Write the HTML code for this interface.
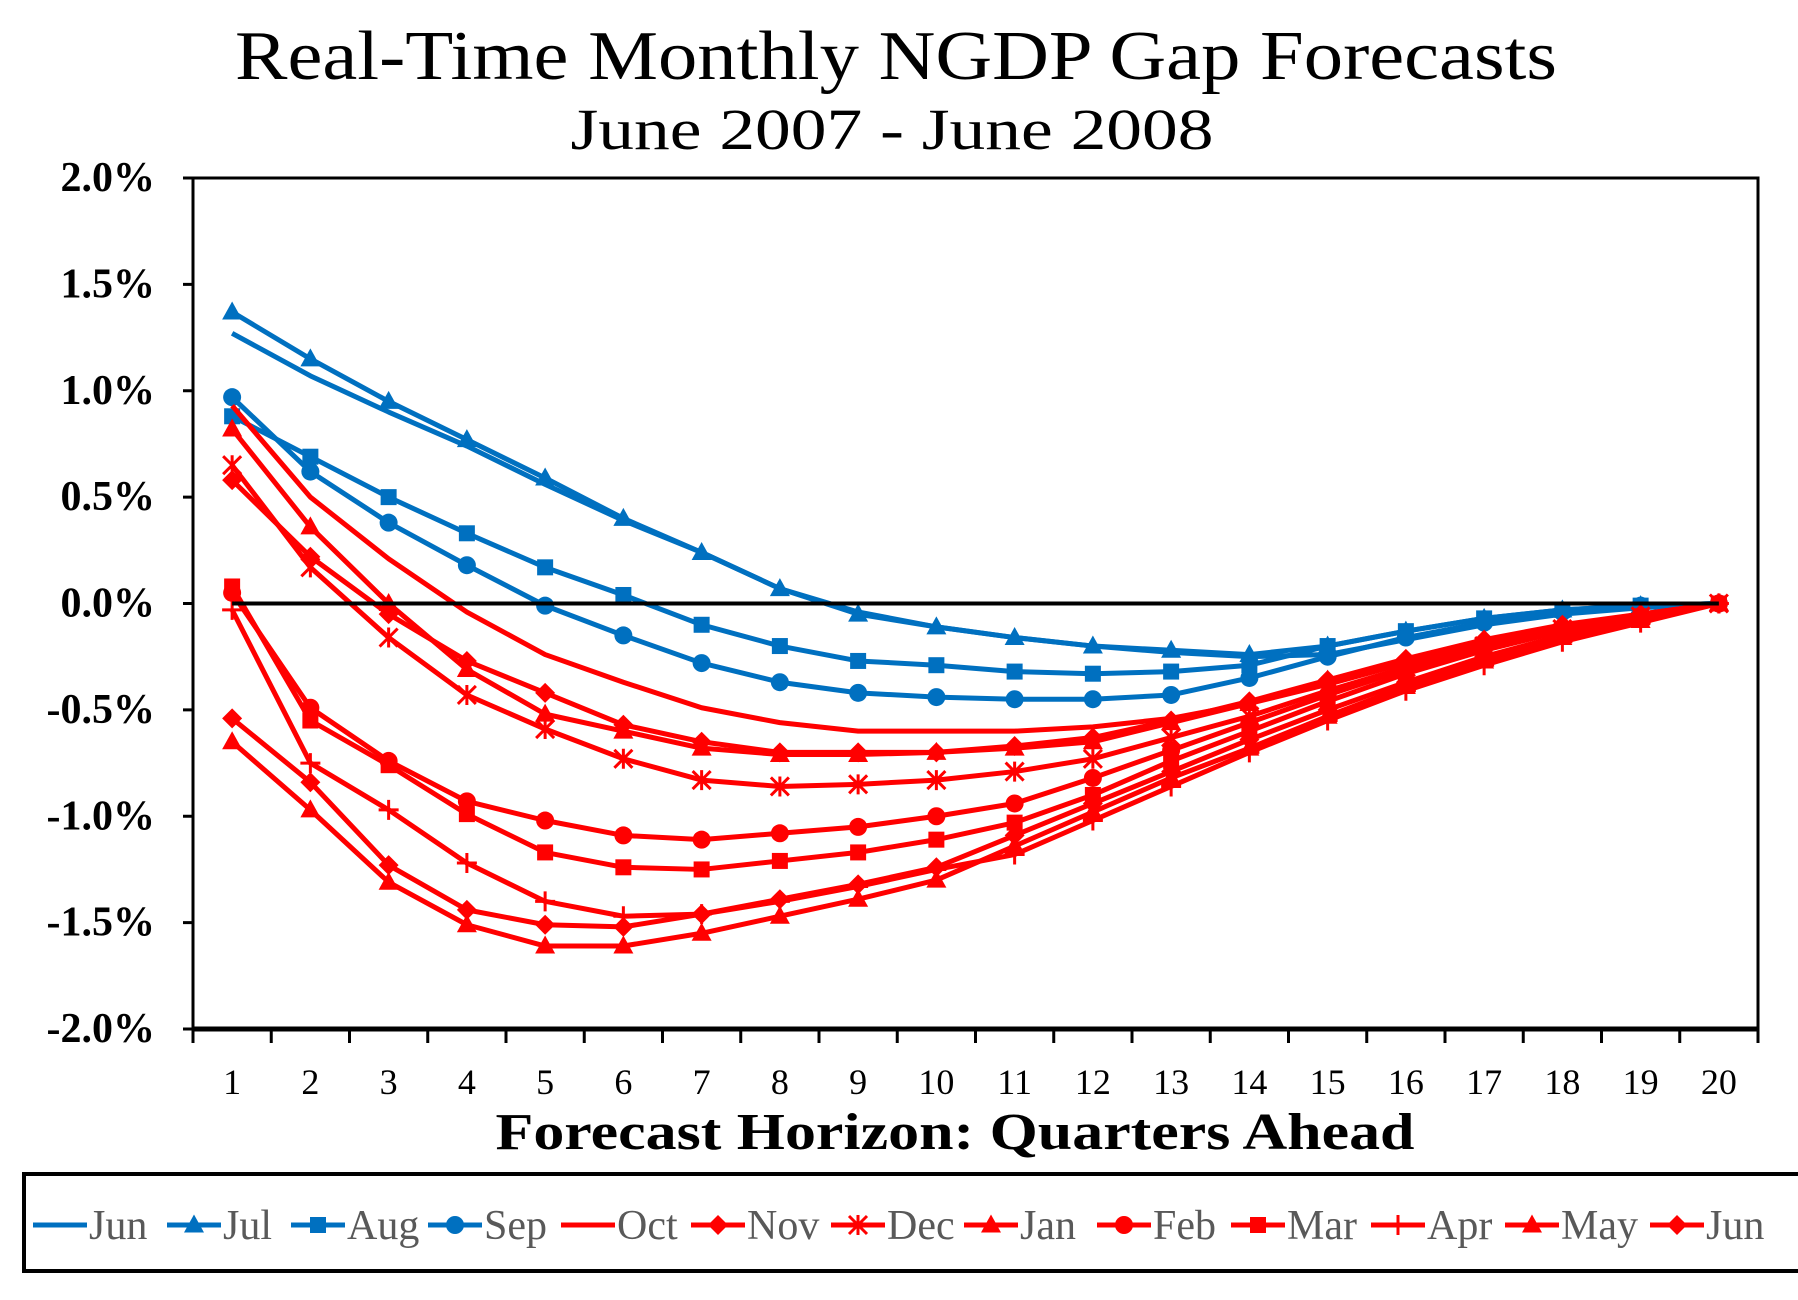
<!DOCTYPE html>
<html><head><meta charset="utf-8"><style>
html,body{margin:0;padding:0;background:#fff;}
svg{display:block;font-family:"Liberation Serif",serif;}
</style></head><body>
<svg id="chart" width="1798" height="1300" viewBox="0 0 1798 1300" xmlns="http://www.w3.org/2000/svg">
<text x="896" y="79" font-size="70" text-anchor="middle" textLength="1322" lengthAdjust="spacingAndGlyphs">Real-Time Monthly NGDP Gap Forecasts</text>
<text x="892" y="149" font-size="58" text-anchor="middle" textLength="643" lengthAdjust="spacingAndGlyphs">June 2007 - June 2008</text>
<g id="plot"></g>
<text x="955" y="1149" font-size="52" font-weight="bold" text-anchor="middle" textLength="919" lengthAdjust="spacingAndGlyphs">Forecast Horizon: Quarters Ahead</text>
<rect x="24" y="1174" width="1790" height="97" fill="none" stroke="#000" stroke-width="4"/>
<g id="legend"></g>
</svg>
<script>
const categories=[1,2,3,4,5,6,7,8,9,10,11,12,13,14,15,16,17,18,19,20];
const yTicks=[2.0,1.5,1.0,0.5,0.0,-0.5,-1.0,-1.5,-2.0];
const seriesNames=["Jun","Jul","Aug","Sep","Oct","Nov","Dec","Jan","Feb","Mar","Apr","May","Jun"];
const jun07=[1.27,1.07,0.90,0.74,0.56,0.39,0.24,0.07,-0.04,-0.11,-0.16,-0.20,-0.23,-0.25,-0.24,-0.17,-0.10,-0.05,-0.02,0];
const jul07=[1.37,1.15,0.95,0.77,0.59,0.40,0.24,0.07,-0.05,-0.11,-0.16,-0.20,-0.22,-0.24,-0.20,-0.13,-0.07,-0.03,-0.01,0];
const aug07=[0.88,0.69,0.50,0.33,0.17,0.04,-0.10,-0.20,-0.27,-0.29,-0.32,-0.33,-0.32,-0.29,-0.20,-0.13,-0.07,-0.03,-0.01,0];
const sep07=[0.97,0.62,0.38,0.18,-0.01,-0.15,-0.28,-0.37,-0.42,-0.44,-0.45,-0.45,-0.43,-0.35,-0.25,-0.16,-0.09,-0.04,-0.01,0];
const oct07=[0.93,0.50,0.21,-0.04,-0.24,-0.37,-0.49,-0.56,-0.60,-0.60,-0.60,-0.58,-0.54,-0.47,-0.38,-0.28,-0.19,-0.11,-0.05,0];
const nov07=[0.58,0.22,-0.05,-0.27,-0.42,-0.57,-0.65,-0.70,-0.70,-0.70,-0.67,-0.63,-0.55,-0.46,-0.36,-0.26,-0.17,-0.10,-0.05,0];
const dec07=[0.65,0.17,-0.16,-0.43,-0.59,-0.73,-0.83,-0.86,-0.85,-0.83,-0.79,-0.73,-0.63,-0.53,-0.41,-0.30,-0.20,-0.12,-0.06,0];
const jan08=[0.82,0.36,0.0,-0.31,-0.52,-0.60,-0.68,-0.71,-0.71,-0.70,-0.68,-0.65,-0.56,-0.47,-0.36,-0.27,-0.18,-0.11,-0.05,0];
const feb08=[0.05,-0.49,-0.74,-0.93,-1.02,-1.09,-1.11,-1.08,-1.05,-1.00,-0.94,-0.82,-0.69,-0.56,-0.43,-0.31,-0.21,-0.12,-0.06,0];
const mar08=[0.08,-0.55,-0.76,-0.99,-1.17,-1.24,-1.25,-1.21,-1.17,-1.11,-1.03,-0.90,-0.74,-0.60,-0.46,-0.33,-0.22,-0.13,-0.06,0];
const apr08=[-0.03,-0.75,-0.97,-1.22,-1.40,-1.47,-1.46,-1.40,-1.33,-1.25,-1.18,-1.02,-0.86,-0.70,-0.55,-0.41,-0.29,-0.18,-0.09,0];
const may08=[-0.65,-0.97,-1.31,-1.51,-1.61,-1.61,-1.55,-1.47,-1.39,-1.30,-1.14,-0.98,-0.82,-0.68,-0.53,-0.39,-0.27,-0.16,-0.08,0];
const jun08=[-0.54,-0.84,-1.23,-1.44,-1.51,-1.52,-1.46,-1.39,-1.32,-1.24,-1.09,-0.94,-0.79,-0.64,-0.50,-0.37,-0.25,-0.15,-0.07,0];

const BLUE="#0070C0",RED="#FF0000";
const series=[
 {name:"Jun",data:jun07,color:BLUE,marker:"none",id:"jun-2007"},
 {name:"Jul",data:jul07,color:BLUE,marker:"triangle",id:"jul-2007"},
 {name:"Aug",data:aug07,color:BLUE,marker:"square",id:"aug-2007"},
 {name:"Sep",data:sep07,color:BLUE,marker:"circle",id:"sep-2007"},
 {name:"Oct",data:oct07,color:RED,marker:"none",id:"oct-2007"},
 {name:"Nov",data:nov07,color:RED,marker:"diamond",id:"nov-2007"},
 {name:"Dec",data:dec07,color:RED,marker:"star",id:"dec-2007"},
 {name:"Jan",data:jan08,color:RED,marker:"triangle",id:"jan-2008"},
 {name:"Feb",data:feb08,color:RED,marker:"circle",id:"feb-2008"},
 {name:"Mar",data:mar08,color:RED,marker:"square",id:"mar-2008"},
 {name:"Apr",data:apr08,color:RED,marker:"plus",id:"apr-2008"},
 {name:"May",data:may08,color:RED,marker:"triangle",id:"may-2008"},
 {name:"Jun",data:jun08,color:RED,marker:"diamond",id:"jun-2008"}
];
const NS="http://www.w3.org/2000/svg";
const L=193,R=1758,T=178,B=1029;
const bw=(R-L)/categories.length;
function xScale(i){return L+bw*(i+0.5);}
function yScale(v){return T+(2-v)/4*(B-T);}
function mk(tag,attrs,parent){const e=document.createElementNS(NS,tag);for(const k in attrs)e.setAttribute(k,attrs[k]);parent.appendChild(e);return e;}
function marker(type,x,y,color,parent,s){
 let e=null;
 if(type==="triangle")e=mk("polygon",{points:`${x},${y-s*1.05} ${x-s},${y+s*0.75} ${x+s},${y+s*0.75}`,fill:color},parent);
 else if(type==="square")e=mk("rect",{x:x-s*0.8,y:y-s*0.8,width:s*1.6,height:s*1.6,fill:color},parent);
 else if(type==="circle")e=mk("circle",{cx:x,cy:y,r:s*0.9,fill:color},parent);
 else if(type==="diamond")e=mk("polygon",{points:`${x},${y-s} ${x+s},${y} ${x},${y+s} ${x-s},${y}`,fill:color},parent);
 else if(type==="plus")e=mk("path",{d:`M${x-s} ${y}H${x+s}M${x} ${y-s}V${y+s}`,stroke:color,"stroke-width":3,fill:"none"},parent);
 else if(type==="star")e=mk("path",{d:`M${x-s*0.9} ${y-s*0.9}L${x+s*0.9} ${y+s*0.9}M${x-s*0.9} ${y+s*0.9}L${x+s*0.9} ${y-s*0.9}M${x} ${y-s}V${y+s}`,stroke:color,"stroke-width":3,fill:"none"},parent);
 return e;
}
const plot=document.getElementById("plot");
const frame=mk("rect",{x:L,y:T,width:R-L,height:B-T,fill:"none",stroke:"#000","stroke-width":3},plot);


const xaxis=mk("line",{x1:L,y1:B,x2:R,y2:B,stroke:"#000","stroke-width":5},plot);


yTicks.forEach(v=>{
 const y=yScale(v);
 const t=mk("line",{x1:L-10,y1:y,x2:L,y2:y,stroke:"#000","stroke-width":3},plot);
 
 
 const lb=mk("text",{x:155,y:y+13,"font-size":42,"font-weight":"bold","text-anchor":"end"},plot);
 lb.textContent=v.toFixed(1)+"%";
 
 
});
for(let i=0;i<=categories.length;i++){
 const x=L+bw*i;
 const t=mk("line",{x1:x,y1:B,x2:x,y2:B+14,stroke:"#000","stroke-width":3},plot);
 
 
}
categories.forEach((c,i)=>{
 const lb=mk("text",{x:xScale(i),y:1094,"font-size":36,"text-anchor":"middle"},plot);
 lb.textContent=c;
 
 
});
series.forEach(s=>{
 const g=mk("g",{},plot);
 
 
 const pts=s.data.map((v,i)=>xScale(i)+","+yScale(v)).join(" ");
 const pl=mk("polyline",{points:pts,fill:"none",stroke:s.color,"stroke-width":5,"stroke-linejoin":"round"},g);
 
 
 if(s.marker!=="none"){
  s.data.forEach((v,i)=>{
   const m=marker(s.marker,xScale(i),yScale(v),s.color,g,10);
   
   
  });
 }
});
const zl=mk("line",{x1:xScale(0),y1:yScale(0),x2:xScale(categories.length-1),y2:yScale(0),stroke:"#000","stroke-width":4},plot);


const legTextX=[89,223,347,484,617,747,887,1020,1153,1287,1427,1561,1706];
const leg=document.getElementById("legend");
series.forEach((s,i)=>{
 const g=mk("g",{},leg);
 
 
 const tx=legTextX[i];
 const ly=1225;
 mk("line",{x1:tx-56,y1:ly,x2:tx-2,y2:ly,stroke:s.color,"stroke-width":5},g);
 if(s.marker!=="none")marker(s.marker,tx-29,ly,s.color,g,10);
 const t=mk("text",{x:tx,y:ly+14,"font-size":42,fill:"#595959"},g);
 t.textContent=s.name;
});
</script>
</body></html>
